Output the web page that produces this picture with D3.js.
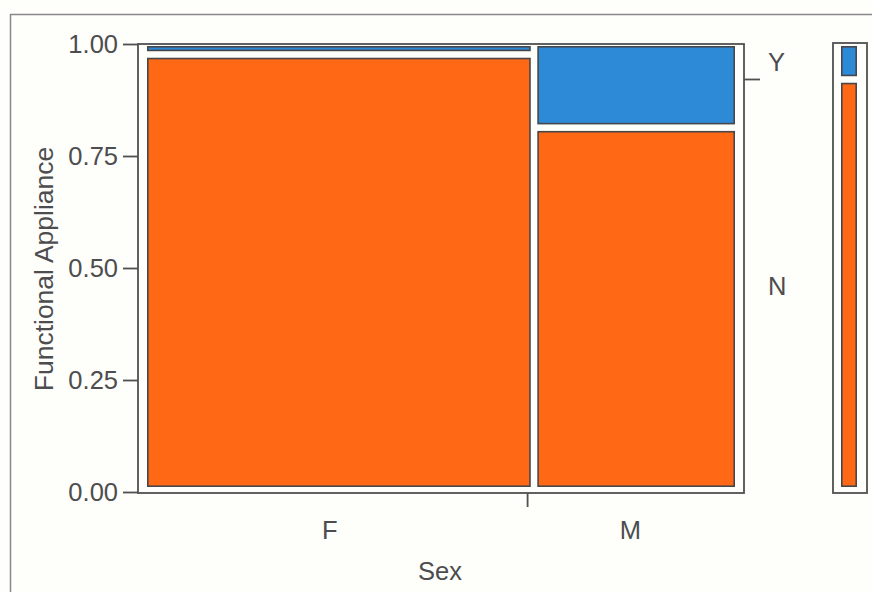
<!DOCTYPE html>
<html>
<head>
<meta charset="utf-8">
<script src="https://cdn.jsdelivr.net/npm/d3@7"></script>
<style>
  html, body { margin: 0; padding: 0; background: #fefefb; }
  svg { display: block; }
  text { font-family: "Liberation Sans", Arial, sans-serif; fill: #4d4d4f; }
</style>
</head>
<body>
<svg id="chart" width="872" height="592"></svg>
<script>
// Counts of Functional Appliance (Y / N) by Sex
const sexes = ["F", "M"];
const responses = ["Y", "N"];          // stacked top to bottom
const countsY = [1, 5];
const countsN = [51, 22];
const yTicks = [0, 0.25, 0.5, 0.75, 1];

const colors = { Y: "#2c8ad7", N: "#ff6814" };
const ink = "#505052";
const fontSize = 25.5;

const svg = d3.select("#chart");

// outer panel border
svg.append("rect")
  .attr("x", 10.5).attr("y", 14.5)
  .attr("width", 900).attr("height", 700)
  .attr("fill", "none").attr("stroke", "#8a878d").attr("stroke-width", 1.5);

// frame + cell area geometry
const frame = { x0: 138, x1: 744, y0: 44, y1: 493 };
const cells = { x0: 147, x1: 735, y0: 46, y1: 487 };
const gap = 6.5;

const totals = sexes.map((s, i) => countsY[i] + countsN[i]);
const grand = d3.sum(totals);
const colStart = [];
let acc = 0;
totals.forEach(t => { colStart.push(acc / grand); acc += t; });

// scales
const xCell = d3.scaleLinear().domain([0, 1]).range([cells.x0, cells.x1]);
const yCell = d3.scaleLinear().domain([0, 1]).range([cells.y1, cells.y0]);
const yAxisScale = d3.scaleLinear().domain([0, 1]).range([492, 44]);
const xAxisScale = d3.scaleLinear().domain([0, 1]).range([132, 733]);

// mosaic cells
const rects = [];
sexes.forEach((s, i) => {
  const a = colStart[i], b = colStart[i] + totals[i] / grand;
  const pN = countsN[i] / totals[i];
  const parts = [
    { r: "N", lo: 0, hi: pN },
    { r: "Y", lo: pN, hi: 1 }
  ];
  parts.forEach(p => {
    let x0 = xCell(a) + (i > 0 ? gap / 2 : 0);
    let x1 = xCell(b) - (i < sexes.length - 1 ? gap / 2 : 0);
    let yb = yCell(p.lo) - (p.lo > 0 ? gap / 2 : 0);
    let yt = yCell(p.hi) + (p.hi < 1 ? gap / 2 : 0);
    rects.push({ r: p.r, x: x0, y: yt, w: x1 - x0, h: yb - yt });
  });
});

svg.append("g").selectAll("rect").data(rects).join("rect")
  .attr("x", d => d.x + 0.8).attr("y", d => d.y + 0.8)
  .attr("width", d => d.w - 1.6).attr("height", d => d.h - 1.6)
  .attr("fill", d => colors[d.r])
  .attr("stroke", "#47474b").attr("stroke-width", 1.6);

// plot frame
svg.append("rect")
  .attr("x", frame.x0).attr("y", frame.y0)
  .attr("width", frame.x1 - frame.x0).attr("height", frame.y1 - frame.y0)
  .attr("fill", "none").attr("stroke", ink).attr("stroke-width", 1.8);

// left axis
const yAxis = svg.append("g")
  .attr("transform", `translate(${frame.x0},0)`)
  .call(d3.axisLeft(yAxisScale).tickValues(yTicks).tickFormat(d3.format(".2f"))
    .tickSize(15).tickPadding(5));
yAxis.select(".domain").remove();
yAxis.selectAll(".tick line").attr("stroke", ink).attr("stroke-width", 1.8);
yAxis.selectAll(".tick text").attr("font-size", fontSize).attr("fill", "#4d4d4f")
  .style("font-family", "'Liberation Sans', Arial, sans-serif");

// bottom axis: tick at column boundary, labels centred in each column
const bounds = colStart.slice(1);
svg.append("g").selectAll("line").data(bounds).join("line")
  .attr("x1", d => xAxisScale(d)).attr("x2", d => xAxisScale(d))
  .attr("y1", frame.y1).attr("y2", frame.y1 + 14)
  .attr("stroke", ink).attr("stroke-width", 1.8);

svg.append("g").selectAll("text").data(sexes).join("text")
  .attr("x", (d, i) => xAxisScale(colStart[i] + totals[i] / grand / 2))
  .attr("y", 539)
  .attr("text-anchor", "middle").attr("font-size", fontSize)
  .text(d => d);

svg.append("text")
  .attr("x", 440).attr("y", 580)
  .attr("text-anchor", "middle").attr("font-size", fontSize)
  .text("Sex");

svg.append("text")
  .attr("transform", "translate(53,269) rotate(-90)")
  .attr("text-anchor", "middle").attr("font-size", 26.5)
  .text("Functional Appliance");

// right marginal axis
const totN = d3.sum(countsN);
const margN = totN / grand;
svg.append("line")
  .attr("x1", frame.x1).attr("x2", frame.x1 + 16)
  .attr("y1", yCell(margN)).attr("y2", yCell(margN))
  .attr("stroke", ink).attr("stroke-width", 1.8);

const margins = [
  { r: "Y", mid: (yAxisScale(1) + yCell(margN)) / 2 },
  { r: "N", mid: (yCell(margN) + yAxisScale(0)) / 2 }
];
svg.append("g").selectAll("text").data(margins).join("text")
  .attr("x", 768).attr("y", d => d.mid)
  .attr("dy", "0.35em").attr("font-size", fontSize)
  .text(d => d.r);

// marginal bar on the far right
const bar = { x0: 833, x1: 867, y0: 43, y1: 493, ix0: 841, ix1: 857 };
svg.append("rect")
  .attr("x", bar.x0).attr("y", bar.y0)
  .attr("width", bar.x1 - bar.x0).attr("height", bar.y1 - bar.y0)
  .attr("fill", "none").attr("stroke", ink).attr("stroke-width", 1.8);

const barParts = [
  { r: "N", lo: 0, hi: margN },
  { r: "Y", lo: margN, hi: 1 }
];
svg.append("g").selectAll("rect").data(barParts).join("rect")
  .attr("x", bar.ix0 + 0.8)
  .attr("y", d => yCell(d.hi) + (d.hi < 1 ? gap / 2 : 0) + 0.8)
  .attr("width", bar.ix1 - bar.ix0 - 1.6)
  .attr("height", d => (yCell(d.lo) - (d.lo > 0 ? gap / 2 : 0)) - (yCell(d.hi) + (d.hi < 1 ? gap / 2 : 0)) - 1.6)
  .attr("fill", d => colors[d.r])
  .attr("stroke", "#47474b").attr("stroke-width", 1.6);
</script>
</body>
</html>
